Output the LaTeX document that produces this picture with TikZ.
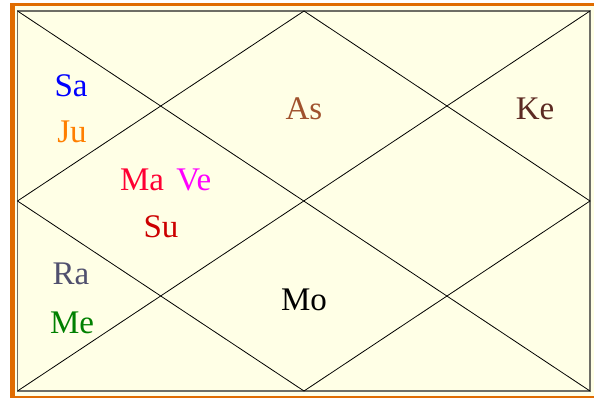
\documentclass[tikz,border=0pt]{standalone}
\usepackage{fontspec}
\setmainfont{Liberation Serif}
\usepackage{xcolor}
\usetikzlibrary{positioning}
\definecolor{FrameOrange}{HTML}{E06C00}
\definecolor{ChartCream}{HTML}{FFFFE6}
\definecolor{EdgeGrey}{HTML}{6E6E66}
\definecolor{SaBlue}{HTML}{0000FF}
\definecolor{JuOrange}{HTML}{FF7F00}
\definecolor{MaRed}{HTML}{FF0033}
\definecolor{VeMagenta}{HTML}{FF00FF}
\definecolor{SuRed}{HTML}{CC0000}
\definecolor{AsBrown}{HTML}{A0522D}
\definecolor{KeBrown}{HTML}{5C2A22}
\definecolor{RaSlate}{HTML}{50506E}
\definecolor{MeGreen}{HTML}{008000}

\begin{document}
\begin{tikzpicture}[x=1pt, y=-1pt]
    \tikzstyle{planet} = [font=\fontsize{33}{36}\selectfont, inner sep=0pt, anchor=base]
    \tikzstyle{rule} = [draw, black, line width=0.8pt]

    \useasboundingbox (0,0) rectangle (594,398);
    \fill[white] (0,0) rectangle (594,398);
    \fill[FrameOrange] (10,3) rectangle (594,398);
    \fill[ChartCream] (15,6.5) rectangle (594,395.5);

    % chart corners and midpoints
    \coordinate (tl) at (17.5,11);
    \coordinate (tr) at (590,11);
    \coordinate (br) at (590,391);
    \coordinate (bl) at (17.5,391);
    \coordinate (tm) at (304,11);
    \coordinate (rm) at (590,201);
    \coordinate (bm) at (304,391);
    \coordinate (lm) at (17.5,201);

    \draw [EdgeGrey, line width=1.3pt] (tl) rectangle (br);
    \path [rule] (tl) -- (br);
    \path [rule] (tr) -- (bl);
    \path [rule] (tm) -- (rm) -- (bm) -- (lm) -- cycle;

    % planets
    \node [planet, SaBlue] (sa) at (71,97) {Sa};
    \node [planet, JuOrange] (ju) at (72,143) {Ju};
    \node [planet, MaRed] (ma) at (142,190) {Ma};
    \node [planet, VeMagenta, base right=12pt of ma] (ve) {Ve};
    \node [planet, SuRed] (su) at (161,237) {Su};
    \node [planet, AsBrown] (as) at (304,120) {As};
    \node [planet, KeBrown] (ke) at (535,120) {Ke};
    \node [planet, RaSlate] (ra) at (71,284) {Ra};
    \node [planet, MeGreen] (me) at (72,333) {Me};
    \node [planet, black] (mo) at (304,310) {Mo};
\end{tikzpicture}
\end{document}
